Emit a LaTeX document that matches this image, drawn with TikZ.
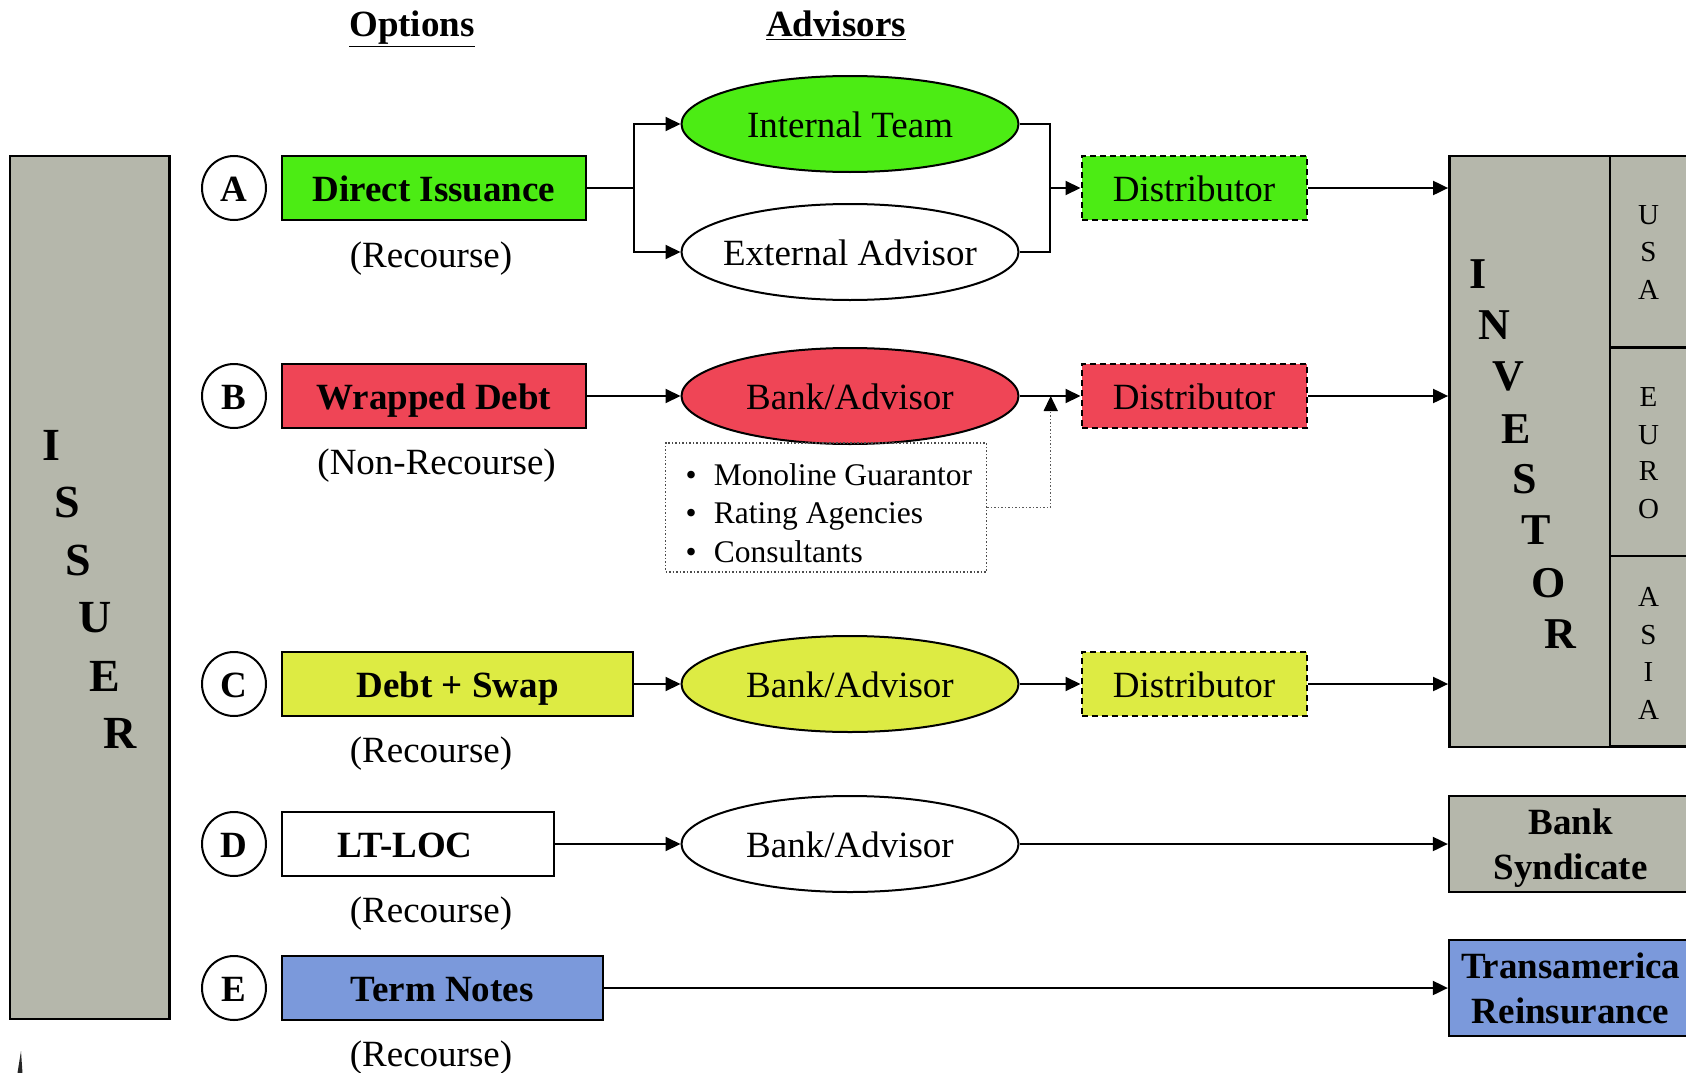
\documentclass[tikz,border=0pt]{standalone}
\usepackage{fontspec}
\setmainfont{Liberation Serif}
\usetikzlibrary{arrows.meta}
\usetikzlibrary{shapes.geometric}

\definecolor{optgreen}{RGB}{76,236,20}
\definecolor{optred}{RGB}{239,69,86}
\definecolor{optyellow}{RGB}{221,235,67}
\definecolor{optblue}{RGB}{123,153,219}
\definecolor{boxgray}{RGB}{181,183,171}

\newcommand{\lblsize}{\fontsize{37}{44.5}\selectfont}

\begin{document}
\begin{tikzpicture}[
    x=1pt, y=-1pt,
    line width=2pt,
    >={Triangle[length=15pt,width=14pt]},
    optbox/.style={draw, rectangle, minimum height=64pt, inner sep=0pt, text height=26pt, text depth=0pt, font=\lblsize\bfseries},
    optletter/.style={draw, circle, minimum size=64pt, inner sep=0pt, text height=26pt, text depth=0pt, font=\lblsize\bfseries},
    advisor/.style={draw, ellipse, minimum width=337pt, minimum height=96pt, inner ysep=0pt, inner xsep=-50pt, text height=26pt, text depth=0pt, font=\lblsize},
    distbox/.style={draw, rectangle, dash pattern=on 6pt off 4pt, minimum width=225pt, minimum height=64pt, inner sep=0pt, text height=26pt, text depth=0pt, font=\lblsize},
    recourse/.style={inner sep=0pt, font=\lblsize},
    header/.style={inner sep=0pt, font=\lblsize\bfseries},
    grayblock/.style={draw, rectangle, fill=boxgray, line width=2.5pt, inner sep=0pt},
    bigletter/.style={inner sep=0pt, font=\fontsize{46}{50}\selectfont\bfseries},
    invletter/.style={inner sep=0pt, font=\fontsize{44}{50}\selectfont\bfseries},
    regletter/.style={inner sep=0pt, font=\fontsize{29}{34}\selectfont},
    endbox/.style={draw, rectangle, line width=2.5pt, minimum width=243pt, minimum height=96pt, inner sep=0pt, align=center, text depth=0pt, font=\lblsize\bfseries},
    conn/.style={->},
    dotconn/.style={-{Triangle[length=15pt,width=14pt,black]}, draw=black!65, line width=1.5pt, dash pattern=on 1.5pt off 2pt},
  ]
  \useasboundingbox (0,0) rectangle (1686,1073);
  \clip (0,0) rectangle (1686,1073);

  \node[header, anchor=base] (hdrOpt) at (412,37) {\underline{Options}};
  \node[header, anchor=base] (hdrAdv) at (836,37) {\underline{Advisors}};

  % issuer
  \node[grayblock, minimum width=159.5pt, minimum height=863pt] (issuer) at (89.75,587.5) {};
  \foreach \ch/\px/\py [count=\k] in {I/51.5/445, S/67/502.5, S/78.7/560.6, U/95/618, E/105/676, R/119.7/733.7}
    \node[bigletter] (iss\k) at (\px,\py) {\ch};
  \fill[black!85] (17.5,1073) -- (21,1051) -- (22.5,1073) -- cycle;

  % options
  \foreach \ch/\py in {A/188, B/396, C/684, D/844, E/988}
    \node[optletter] (lt\ch) at (234,\py) {\ch};
  \node[optbox, fill=optgreen, minimum width=304.3pt] (optA) at (433.9,188) {Direct Issuance};
  \node[optbox, fill=optred, minimum width=304.3pt] (optB) at (433.9,396) {Wrapped Debt};
  \node[optbox, fill=optyellow, minimum width=351.7pt] (optC) at (457.6,684) {Debt + Swap};
  \node[optbox, minimum width=272.6pt] (optD) at (418,844) {\hspace*{-26pt}LT-LOC};
  \node[optbox, fill=optblue, minimum width=321pt] (optE) at (442.2,988) {Term Notes};

  \node[recourse] (recA) at (431,259) {(Recourse)};
  \node[recourse] (recB) at (436.6,465.5) {(Non-Recourse)};
  \node[recourse] (recC) at (431,754) {(Recourse)};
  \node[recourse] (recD) at (431,914) {(Recourse)};
  \node[recourse] (recE) at (431,1058) {(Recourse)};

  % advisors
  \node[advisor, fill=optgreen] (intl) at (850,124) {Internal Team};
  \node[advisor] (extl) at (850,252) {External Advisor};
  \node[advisor, fill=optred] (bankB) at (850,396) {Bank/Advisor};
  \node[advisor, fill=optyellow] (bankC) at (850,684) {Bank/Advisor};
  \node[advisor] (bankD) at (850,844) {Bank/Advisor};

  \node[draw=black!70, line width=1.5pt, dash pattern=on 1.5pt off 2pt, minimum width=321pt, minimum height=128.7pt] (notes) at (826.2,507.4) {};
  \node[anchor=north west, inner sep=0pt, align=left, font=\fontsize{31.5}{38.4}\selectfont] (notetext) at (684.5,462.5)
    {\makebox[28.5pt][l]{\textbullet}Monoline Guarantor\\
     \makebox[28.5pt][l]{\textbullet}Rating Agencies\\
     \makebox[28.5pt][l]{\textbullet}Consultants};

  \node[distbox, fill=optgreen] (distA) at (1194,188) {Distributor};
  \node[distbox, fill=optred] (distB) at (1194,396) {Distributor};
  \node[distbox, fill=optyellow] (distC) at (1194,684) {Distributor};

  % investor
  \node[grayblock, minimum width=160.7pt, minimum height=590.7pt] (inv) at (1529.7,451.4) {};
  \node[grayblock, minimum width=90pt, minimum height=191.5pt] (usa) at (1655,251.75) {};
  \node[grayblock, minimum width=90pt, minimum height=208.3pt] (euro) at (1655,451.65) {};
  \node[grayblock, minimum width=90pt, minimum height=190.9pt] (asia) at (1655,651.25) {};
  \foreach \ch/\px/\py [count=\k] in {I/1478.5/274, N/1494.7/325, V/1508/376, E/1515.8/429, S/1524.6/479, T/1536.5/530, O/1549/583, R/1560.2/634}
    \node[invletter] (inv\k) at (\px,\py) {\ch};
  \foreach \ch/\py [count=\k] in {U/215, S/252, A/290, E/397, U/435, R/471, O/509.5, A/597, S/635, I/672, A/710}
    \node[regletter] (reg\k) at (1648.5,\py) {\ch};

  \node[endbox, fill=boxgray] (synd) at (1570.6,844) {Bank\\Syndicate};
  \node[endbox, fill=optblue] (trans) at (1570.6,988) {Transamerica\\Reinsurance};

  % connectors
  \coordinate (splitA) at (633.5,188);
  \coordinate (joinA) at (1050,188);
  \coordinate (joinB) at (1050.7,396);
  \draw (optA.east) -- (splitA);
  \draw[conn] (splitA) |- (intl.west);
  \draw[conn] (splitA) |- (extl.west);
  \draw (intl.east) -| (joinA);
  \draw (extl.east) -| (joinA);
  \draw[conn] (joinA) -- (distA.west);
  \draw[conn] (distA.east) -- (distA.east -| inv.west);

  \draw[conn] (optB.east) -- (bankB.west);
  \draw[conn] (bankB.east) -- (distB.west);
  \draw[conn] (distB.east) -- (distB.east -| inv.west);
  \draw[dotconn] (notes.east) -| (joinB);

  \draw[conn] (optC.east) -- (bankC.west);
  \draw[conn] (bankC.east) -- (distC.west);
  \draw[conn] (distC.east) -- (distC.east -| inv.west);

  \draw[conn] (optD.east) -- (bankD.west);
  \draw[conn] (bankD.east) -- (synd.west);

  \draw[conn] (optE.east) -- (trans.west);
\end{tikzpicture}
\end{document}
